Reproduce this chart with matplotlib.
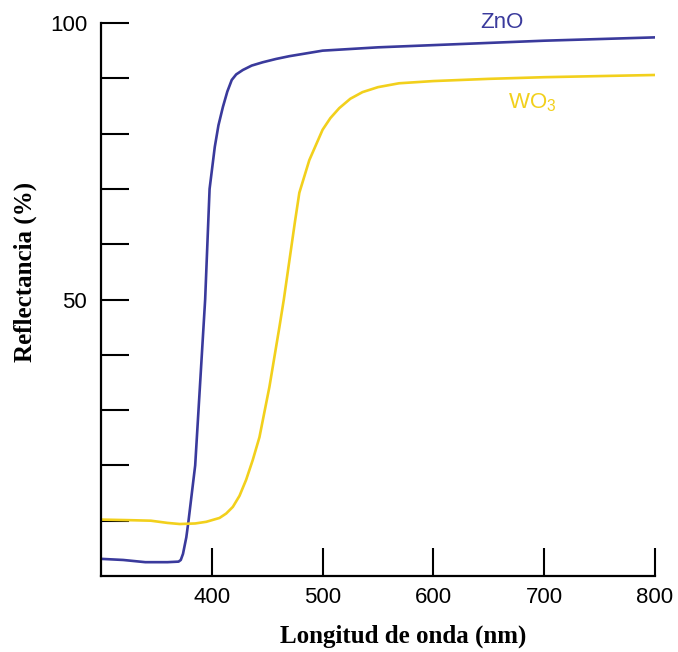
import matplotlib
matplotlib.use("Agg")
import matplotlib.pyplot as plt

plt.rcParams['font.family'] = ['Liberation Sans', 'DejaVu Sans']
plt.rcParams['mathtext.fontset'] = 'custom'
plt.rcParams['mathtext.rm'] = 'Liberation Sans'
plt.rcParams['mathtext.default'] = 'regular'

# reflectance spectra
zno_x = [300, 320, 340, 360, 370, 372, 374, 377, 379, 385, 391, 394, 396, 398,
         402.7, 406, 410, 414, 418, 422, 428, 436, 446, 458, 470, 488, 500, 550, 600,
         650, 700, 750, 800]
zno_y = [3.1, 2.9, 2.5, 2.5, 2.6, 2.9, 4.0, 7.0, 10, 20, 40, 50, 60, 70,
         77.6, 81.5, 84.8, 87.6, 89.7, 90.7, 91.5, 92.3, 92.9, 93.5, 94.0, 94.6, 95.0, 95.6, 96.0,
         96.4, 96.8, 97.1, 97.4]

wo3_x = [300, 325, 345, 360, 371, 385, 395, 407, 413, 419, 425, 431, 437, 443,
         452, 461, 465, 470, 475, 479, 488, 500, 507, 515, 525, 536, 550, 569, 600,
         650, 700, 750, 800]
wo3_y = [10.2, 10.1, 10.0, 9.6, 9.4, 9.5, 9.8, 10.5, 11.3, 12.5, 14.5, 17.4, 21, 25.1,
         34.2, 45, 50, 57, 64, 69.3, 75.2, 80.7, 82.8, 84.6, 86.3, 87.5, 88.4, 89.1, 89.5,
         89.9, 90.2, 90.4, 90.6]

x_ticks = [400, 500, 600, 700, 800]
y_ticks = [10, 20, 30, 40, 50, 60, 70, 80, 90, 100]
y_labels = ['', '', '', '', '50', '', '', '', '', '100']

zno_color = '#3a3a9c'
wo3_color = '#f2d01c'

fig = plt.figure(figsize=(6.78, 6.52), dpi=100)
ax = fig.add_axes([101/678, 1 - 576/652, (655 - 101)/678, (576 - 23)/652])

ax.plot(zno_x, zno_y, color=zno_color, lw=1.9)
ax.plot(wo3_x, wo3_y, color=wo3_color, lw=1.9)

ax.set_xlim(300, 800)
ax.set_ylim(0, 100)
ax.set_xticks(x_ticks)
ax.set_yticks(y_ticks)
ax.set_yticklabels(y_labels)

for s in ['top', 'right']:
    ax.spines[s].set_visible(False)
for s in ['left', 'bottom']:
    ax.spines[s].set_linewidth(1.6)

ax.tick_params(direction='in', length=20, width=1.5, labelsize=16)
ax.tick_params(axis='x', pad=8)
ax.tick_params(axis='y', pad=10)

ax.text(662, 100, 'ZnO', color=zno_color, fontsize=16, ha='center', va='center')
ax.text(689, 85.5, 'WO$_3$', color=wo3_color, fontsize=16, ha='center', va='center')

fig.text(25/678, 1 - 272/652, 'Reflectancia (%)', rotation=90, ha='center', va='center',
         family='Liberation Serif', fontweight='bold', fontsize=18)
fig.text(403/678, 1 - 636/652, 'Longitud de onda (nm)', ha='center', va='center',
         family='Liberation Serif', fontweight='bold', fontsize=18)

fig.savefig('out.png', dpi=100)
